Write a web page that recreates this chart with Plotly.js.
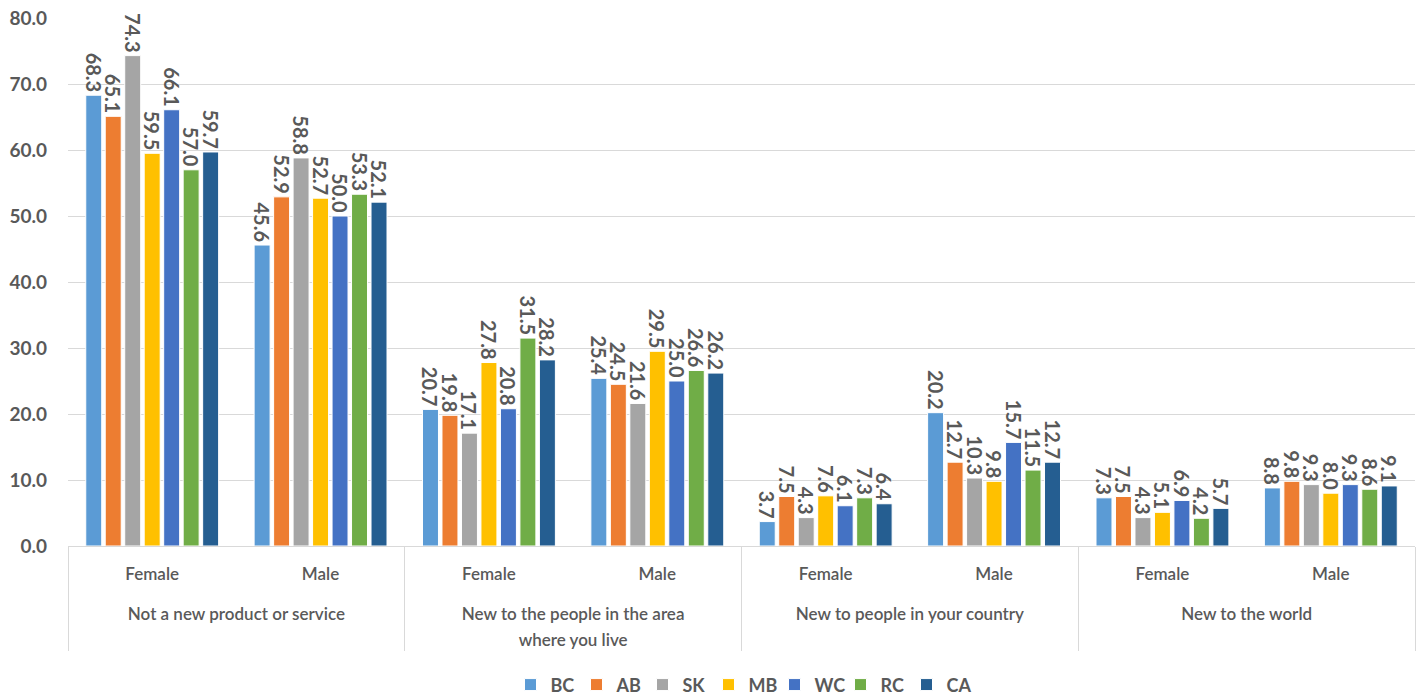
<!DOCTYPE html>
<html>
<head>
<meta charset="utf-8">
<script src="https://cdn.plot.ly/plotly-3.0.1.min.js"></script>
<style>
  html, body { margin: 0; padding: 0; background: #ffffff; }
  #chart { width: 1418px; height: 696px; }
</style>
</head>
<body>
<div id="chart"></div>
<script>
// Outer groups (novelty of product) and inner groups (gender).
// A leading non-breaking-space line sets the outer labels further below the inner ones.
const groups = [
  "Not a new product or service",
  "New to the people in the area<br>where you live",
  "New to people in your country",
  "New to the world"
];
const genders = ["Female", "Male"];

const regions = ["BC", "AB", "SK", "MB", "WC", "RC", "CA"];
const regionColors = ["#5B9BD5", "#ED7D31", "#A5A5A5", "#FFC000", "#4472C4", "#70AD47", "#255E91"];

// Percentages per region, ordered: group1 F, group1 M, group2 F, group2 M, ...
const BC = [68.3, 45.6, 20.7, 25.4, 3.7, 20.2, 7.3, 8.8];
const AB = [65.1, 52.9, 19.8, 24.5, 7.5, 12.7, 7.5, 9.8];
const SK = [74.3, 58.8, 17.1, 21.6, 4.3, 10.3, 4.3, 9.3];
const MB = [59.5, 52.7, 27.8, 29.5, 7.6, 9.8, 5.1, 8.0];
const WC = [66.1, 50.0, 20.8, 25.0, 6.1, 15.7, 6.9, 9.3];
const RC = [57.0, 53.3, 31.5, 26.6, 7.3, 11.5, 4.2, 8.6];
const CA = [59.7, 52.1, 28.2, 26.2, 6.4, 12.7, 5.7, 9.1];
const seriesValues = [BC, AB, SK, MB, WC, RC, CA];

const yTicks = [0, 10, 20, 30, 40, 50, 60, 70, 80];

const FONT = "Lato, 'Open Sans', sans-serif";
const GREY = "#595959";

// Category label text is set at 17px inside a 20px axis font (wider line spacing)
const small = s => s.split("<br>").map(p => '<span style="font-size:17px">' + p + "</span>").join("<br>");

// Two-level category coordinates
const outer = [];
const inner = [];
groups.forEach(g => genders.forEach(s => {
  outer.push("\u00A0<br>" + small(g));
  inner.push(small(s));
}));

const traces = regions.map((name, i) => ({
  type: "bar",
  name: name,
  x: [outer, inner],
  y: seriesValues[i],
  text: seriesValues[i].map(v => v.toFixed(1)),
  textposition: "outside",
  textangle: 90,
  constraintext: "none",
  cliponaxis: false,
  textfont: { family: FONT, size: 20, color: GREY, weight: "bold" },
  marker: { color: regionColors[i], line: { color: "#ffffff", width: 1 } },
  hoverinfo: "y+name"
}));

const layout = {
  width: 1418,
  height: 696,
  margin: { l: 68, r: 3, t: 18, b: 150, autoexpand: false },
  paper_bgcolor: "#ffffff",
  plot_bgcolor: "#ffffff",
  barmode: "group",
  bargap: 0.19,
  bargroupgap: 0.18,
  font: { family: FONT, color: GREY, size: 17 },
  showlegend: true,
  legend: {
    orientation: "h",
    x: 0.5, xanchor: "center",
    y: -0.263, yanchor: "middle",
    font: { family: FONT, size: 18, color: GREY, weight: "bold" },
    itemwidth: 30,
    entrywidth: 21,
    entrywidthmode: "pixels",
    traceorder: "normal"
  },
  xaxis: {
    type: "multicategory",
    showline: true,
    linecolor: "#d9d9d9",
    linewidth: 1,
    showdividers: true,
    dividercolor: "#d9d9d9",
    dividerwidth: 1,
    tickfont: { family: FONT, size: 20, color: GREY, weight: 600 },
    ticklabelstandoff: 9,
    ticks: "",
    showgrid: false,
    zeroline: false
  },
  yaxis: {
    range: [0, 80],
    tickvals: yTicks,
    ticktext: yTicks.map(v => v.toFixed(1)),
    tickfont: { family: FONT, size: 19, color: GREY, weight: "bold" },
    showgrid: true,
    gridcolor: "#d9d9d9",
    gridwidth: 1,
    zeroline: true,
    zerolinecolor: "#d9d9d9",
    showline: false,
    ticks: "",
    ticklabelstandoff: 20
  }
};

Plotly.newPlot("chart", traces, layout, { displayModeBar: false, responsive: false });
</script>
</body>
</html>
